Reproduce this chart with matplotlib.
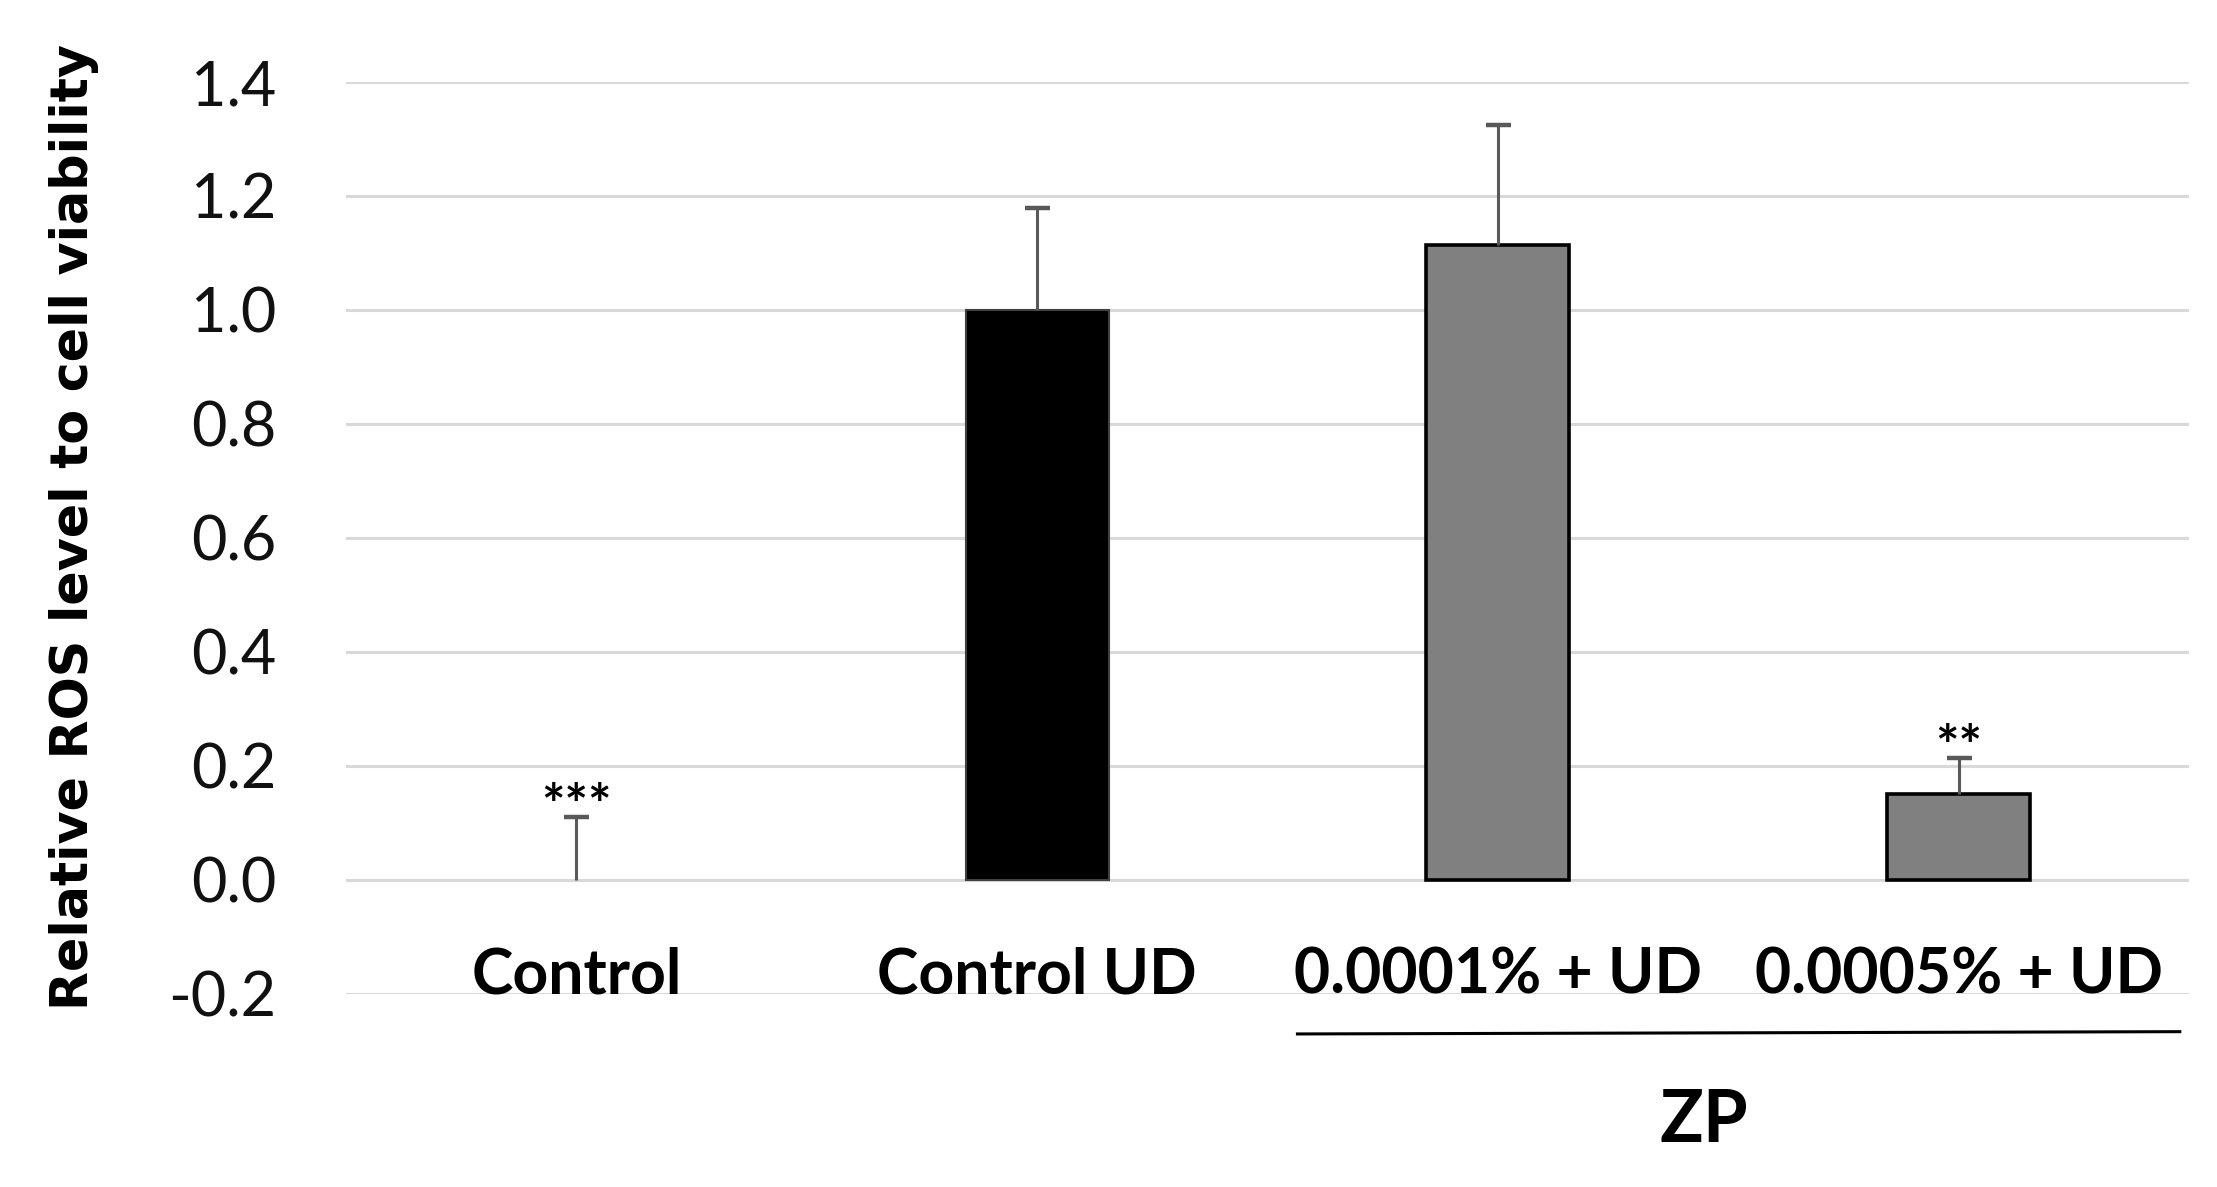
import matplotlib
matplotlib.use("Agg")
import matplotlib.pyplot as plt
import numpy as np

categories = ["Control", "Control UD", "0.0001% + UD", "0.0005% + UD"]
values = [0.0, 1.0, 1.114, 0.151]
errors = [0.11, 0.179, 0.211, 0.062]
significance = ["***", "", "", "**"]
bar_colors = ["#808080", "#000000", "#808080", "#808080"]
edge_colors = ["#000000", "#404040", "#000000", "#000000"]
edge_widths = [0.0, 1.5, 2.6, 2.6]
yticks = [-0.2, 0.0, 0.2, 0.4, 0.6, 0.8, 1.0, 1.2, 1.4]
group_label = "ZP"
ylabel = "Relative ROS level to cell viability"

plt.rcParams['axes.unicode_minus'] = False
plt.rcParams['font.family'] = ['Lato', 'DejaVu Sans']

fig = plt.figure(figsize=(22.17, 11.87), dpi=100)
ax = fig.add_axes([346/2217, 1-993.5/1187, (2189-346)/2217, (993.5-82)/1187])

x = np.arange(len(categories))
vals = np.array(values)
errs = np.array(errors)
ax.set_xlim(-0.5, len(categories) - 0.5)
ax.set_ylim(-0.2, 1.4)
ax.set_yticks(yticks)
ax.set_yticklabels([f"{v:.1f}" for v in yticks], fontsize=44, color="#111111")
ax.yaxis.grid(True, color="#d9d9d9", linewidth=2.2, zorder=0)
ax.set_axisbelow(True)
ax.tick_params(axis='y', length=0, pad=50)
ax.set_xticks([])
for s in ax.spines.values():
    s.set_visible(False)

ax.bar(x, vals, width=0.31, color=bar_colors, edgecolor=edge_colors,
       linewidth=edge_widths, zorder=3)
# upper-only error bars with a single cap
ax.errorbar(x, vals, yerr=[np.zeros(len(errs)), errs], fmt='none',
            ecolor="#595959", elinewidth=2.2, capsize=0, zorder=4)
ax.plot(x, vals + errs, ls='none', marker='_', markersize=18,
        markeredgewidth=3.2, color="#595959", zorder=4)

for xi, v, e, s in zip(x, vals, errs, significance):
    if s:
        ax.text(xi, v + e - 0.012, s, ha='center', va='baseline', fontsize=40,
                fontweight='bold', color="#000000", zorder=5)

for xi, c in zip(x, categories):
    ax.text(xi, -0.2, c, ha='center', va='baseline', fontsize=45,
            fontweight='bold', color="#000000", clip_on=False)

ax.plot([1.565, 3.48], [-0.271, -0.267], color="#000000", linewidth=2.2,
        clip_on=False)
ax.text(2.446, -0.425, group_label, ha='center', va='center', fontsize=52,
        fontweight='bold', color="#000000", clip_on=False)

fig.text(74/2217, 1-527/1187, ylabel, rotation=90, ha='center', va='center',
         fontsize=36.5, fontweight='bold', family=['DejaVu Sans'])

fig.savefig("out.png", dpi=100, facecolor="white")
